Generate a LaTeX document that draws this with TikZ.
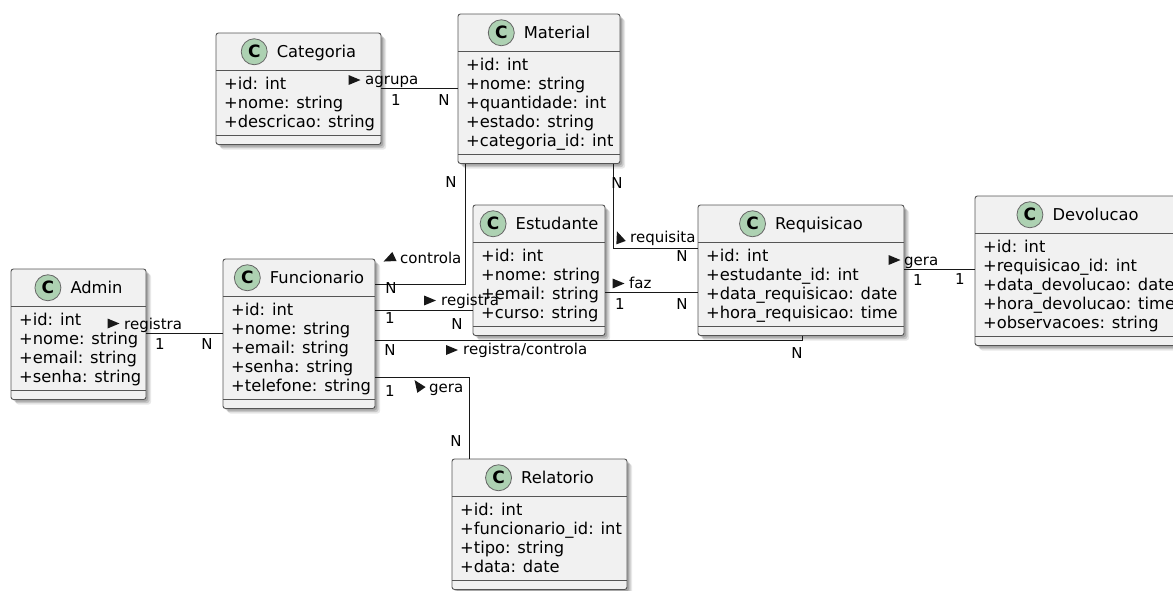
\documentclass[tikz,border=0pt]{standalone}
\usepackage{fontspec}
\setmainfont{DejaVu Sans}
\usetikzlibrary{calc,shadows}

\definecolor{boxfill}{HTML}{F1F1F1}
\definecolor{spotfill}{HTML}{ADD1B2}
\definecolor{linecol}{HTML}{181818}
\definecolor{boxline}{HTML}{555555}

\tikzset{
  softshadow/.style={
    drop shadow={shadow xshift=2pt, shadow yshift=-2pt, fill=black, opacity=0.16},
    drop shadow={shadow xshift=3.5pt, shadow yshift=-3.5pt, fill=black, opacity=0.14},
    drop shadow={shadow xshift=5pt, shadow yshift=-5pt, fill=black, opacity=0.09}},
  classbox/.style={draw=boxline, line width=0.9pt, fill=boxfill, rounded corners=2.5pt,
    inner sep=0pt, outer sep=0pt, softshadow},
  sepline/.style={draw=boxline, line width=0.9pt},
  titletext/.style={inner sep=0pt, font=\fontsize{16.3}{19}\selectfont},
  attrtext/.style={inner sep=0pt, font=\fontsize{16.3}{19}\selectfont},
  spot/.style={circle, minimum size=26pt, inner sep=0pt, fill=spotfill, draw=black!60,
    line width=0.8pt, font=\fontsize{17}{17}\selectfont\bfseries},
  conn/.style={draw=linecol, line width=1pt},
  lbl/.style={inner sep=0pt, font=\fontsize{15}{18}\selectfont},
  mult/.style={inner sep=0pt, font=\fontsize{15}{18}\selectfont},
  % filled direction mark; the argument is its heading on the page, in degrees
  pics/dirtri/.style={code={\fill[linecol] ({-(#1)}:6) -- ({-(#1)+140.2}:7.8) -- ({-(#1)-140.2}:7.8) -- cycle;}}
}

% class box: id, left, top, width, number of attributes, title, attributes
\newcommand\umlclass[7]{%
  \pgfmathsetmacro\clsh{54.5+19*#5}%
  \node[classbox, anchor=north west, minimum width=#4pt, minimum height=\clsh pt] (#1) at (#2,#3) {};
  \draw[sepline] ($(#1.north west)+(0,37.5)$) -- ($(#1.north east)+(0,37.5)$);
  \draw[sepline] ($(#1.south west)+(0,-9)$) -- ($(#1.south east)+(0,-9)$);
  \coordinate (#1-hc) at ($(#1.north)+(0,18.75)$);
  \node[titletext, anchor=base] (#1-name) at ($(#1.north)+(18,24.75)$) {#6};
  \node[spot, anchor=east] (#1-spot) at ($(#1-name.west |- #1-hc)+(-9,0)$) {C};
  \foreach \att [count=\i from 0] in {#7} {
    \node[attrtext, anchor=base west] (#1-a\i) at ($(#1.north west)+(8,56.5+19*\i)$) {\att};
  }%
}

\begin{document}
\begin{tikzpicture}[x=1pt, y=-1pt]
\useasboundingbox (0,0) rectangle (1173,590);
\clip (0,0) rectangle (1173,590);
\fill[white] (0,0) rectangle (1173,590);

% classes
\umlclass{cat}{216}{33}{165}{3}{Categoria}{+id: int, +nome: string, +descricao: string}
\umlclass{mat}{458}{14}{162}{5}{Material}{+id: int, +nome: string, +quantidade: int, +estado: string, +categoria\_id: int}
\umlclass{adm}{11}{269}{135}{4}{Admin}{+id: int, +nome: string, +email: string, +senha: string}
\umlclass{fun}{223}{259}{152}{5}{Funcionario}{+id: int, +nome: string, +email: string, +senha: string, +telefone: string}
\umlclass{est}{473}{205}{132}{4}{Estudante}{+id: int, +nome: string, +email: string, +curso: string}
\umlclass{req}{698}{205}{206}{4}{Requisicao}{+id: int, +estudante\_id: int, +data\_requisicao: date, +hora\_requisicao: time}
\umlclass{dev}{975}{196}{205}{5}{Devolucao}{+id: int, +requisicao\_id: int, +data\_devolucao: date, +hora\_devolucao: time, +observacoes: string}
\umlclass{rel}{452}{459}{175}{4}{Relatorio}{+id: int, +funcionario\_id: int, +tipo: string, +data: date}

% connector end points
\coordinate (agA) at ($(cat.north east)+(0,55)$);
\coordinate (rgA) at ($(adm.north east)+(0,64)$);
\coordinate (ctA) at ($(fun.north east)+(0,25)$);
\coordinate (ctB) at ($(mat.south west)+(7,0)$);
\coordinate (reA) at ($(fun.north east)+(0,51)$);
\coordinate (rcA) at ($(fun.north east)+(0,81)$);
\coordinate (rcB) at ($(req.south west)+(104,0)$);
\coordinate (grA) at ($(fun.north east)+(0,118)$);
\coordinate (grB) at ($(rel.north west)+(17,0)$);
\coordinate (rqA) at ($(mat.south east)+(-7,0)$);
\coordinate (rqB) at ($(req.north west)+(0,43)$);
\coordinate (fzA) at ($(est.north east)+(0,87)$);
\coordinate (gdA) at ($(req.north east)+(0,64)$);

% connectors
\draw[conn] (agA) -- (agA -| mat.west);
\draw[conn] (rgA) -- (rgA -| fun.west);
\draw[conn] (ctA) -| (ctB);
\draw[conn] (reA) -- (reA -| est.west);
\draw[conn] (rcA) -| (rcB);
\draw[conn] (grA) -| (grB);
\draw[conn] (rqA) |- (rqB);
\draw[conn] (fzA) -- (fzA -| req.west);
\draw[conn] (gdA) -- (gdA -| dev.west);

% association names with direction marks
\node[lbl, anchor=base west] (l-agrupa) at (365,84) {agrupa};
\pic at (354.5,80) {dirtri=0};
\node[lbl, anchor=base west] (l-registra1) at (124,329) {registra};
\pic at (113.5,323.5) {dirtri=0};
\node[lbl, anchor=base west] (l-controla) at (400,263) {controla};
\pic at (389,259) {dirtri=205};
\node[lbl, anchor=base west] (l-registra2) at (441,305) {registra};
\pic at (430,300.5) {dirtri=0};
\node[lbl, anchor=base west] (l-regctl) at (463,354) {registra/controla};
\pic at (452,350) {dirtri=0};
\node[lbl, anchor=base west] (l-gera1) at (429,392) {gera};
\pic at (418,385) {dirtri=125};
\node[lbl, anchor=base west] (l-requisita) at (630,242) {requisita};
\pic at (619,237) {dirtri=110};
\node[lbl, anchor=base west] (l-faz) at (629,288) {faz};
\pic at (618.5,283.5) {dirtri=0};
\node[lbl, anchor=base west] (l-gera2) at (904,265) {gera};
\pic at (894.5,260) {dirtri=0};

% multiplicities
\node[mult] (m-ag1) at (396,100) {1};
\node[mult] (m-ag2) at (444,100) {N};
\node[mult] (m-rg1) at (160,344) {1};
\node[mult] (m-rg2) at (207,344) {N};
\node[mult] (m-ct1) at (391,288) {N};
\node[mult] (m-ct2) at (451,182) {N};
\node[mult] (m-re1) at (390,318) {1};
\node[mult] (m-re2) at (457,324) {N};
\node[mult] (m-rc1) at (390,350) {N};
\node[mult] (m-rc2) at (797,353) {N};
\node[mult] (m-gr1) at (390,391) {1};
\node[mult] (m-gr2) at (456,441) {N};
\node[mult] (m-rq1) at (617,183) {N};
\node[mult] (m-rq2) at (682,256) {N};
\node[mult] (m-fz1) at (620,304) {1};
\node[mult] (m-fz2) at (682,304) {N};
\node[mult] (m-gd1) at (918,280) {1};
\node[mult] (m-gd2) at (960,279) {1};
\end{tikzpicture}
\end{document}
